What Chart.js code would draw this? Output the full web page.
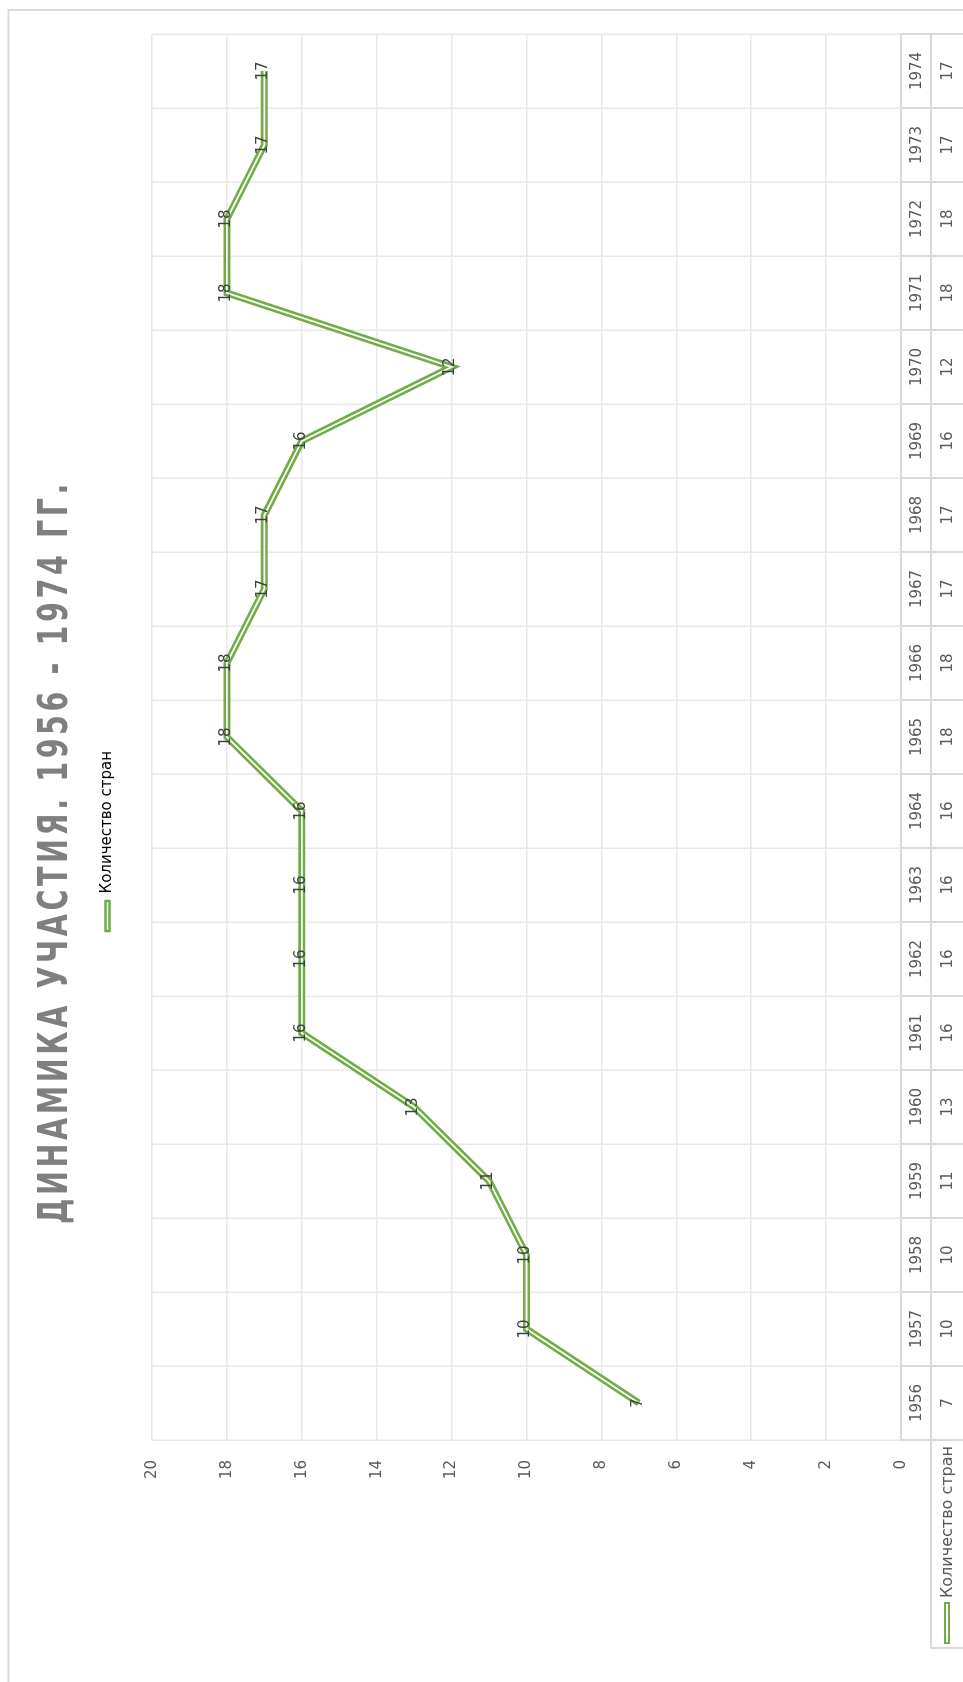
<!DOCTYPE html>
<html>
<head>
<meta charset="utf-8">
<script src="https://cdn.jsdelivr.net/npm/chart.js@4.4.0/dist/chart.umd.min.js"></script>
<style>
html, body { margin: 0; padding: 0; background: #fff; width: 963px; height: 1682px; overflow: hidden; }
/* chart is drawn landscape, then turned on its side like the original */
#wrap { position: absolute; left: 0; top: 0; width: 1682px; height: 963px;
        transform-origin: 0 0; transform: translate(0, 1682px) rotate(-90deg); }
</style>
</head>
<body>
<div id="wrap"><canvas id="chart" width="1682" height="963"></canvas></div>
<script>
const years = ['1956','1957','1958','1959','1960','1961','1962','1963','1964','1965',
               '1966','1967','1968','1969','1970','1971','1972','1973','1974'];
const countries = [7, 10, 10, 11, 13, 16, 16, 16, 16, 18, 18, 17, 17, 16, 12, 18, 18, 17, 17];
const valueTicks = [0, 2, 4, 6, 8, 10, 12, 14, 16, 18, 20];
const chartTitle = 'ДИНАМИКА УЧАСТИЯ. 1956 - 1974 ГГ.';
const seriesName = 'Количество стран';

const GREEN = '#70AD47';
const TEXT = '#595959';
const TABLE_LINE = '#d9d9d9';

Chart.defaults.font.family = '"DejaVu Sans", sans-serif';
Chart.defaults.font.size = 15;
Chart.defaults.color = TEXT;

// outer frame of the chart
const frame = {
    id: 'frame',
    beforeDraw(chart) {
        const ctx = chart.ctx;
        ctx.save();
        ctx.strokeStyle = TABLE_LINE;
        ctx.lineWidth = 2;
        ctx.beginPath();
        ctx.moveTo(0, 8.5);
        ctx.lineTo(1672, 8.5);
        ctx.lineTo(1672, chart.height);
        ctx.stroke();
        ctx.restore();
    }
};

// big grey title, a bit condensed and spaced like the excel one
const bigTitle = {
    id: 'bigTitle',
    afterDraw(chart) {
        const ctx = chart.ctx;
        ctx.save();
        ctx.font = 'bold 40px "DejaVu Sans"';
        ctx.letterSpacing = '5px';
        const w = ctx.measureText(chartTitle).width;
        ctx.translate(830, 67);
        ctx.scale(744 / w, 1);
        ctx.fillStyle = '#7f7f7f';
        ctx.textAlign = 'center';
        ctx.textBaseline = 'alphabetic';
        ctx.fillText(chartTitle, 0, 0);
        ctx.restore();
    }
};

// extra room between legend and plot
const legendSpace = {
    id: 'legendSpace',
    afterInit(chart) {
        const fit = chart.legend.fit;
        chart.legend.fit = function () {
            fit.call(this);
            this.height += 27;
        };
    }
};

const pointLabels = {
    id: 'pointLabels',
    afterDatasetsDraw(chart) {
        const ctx = chart.ctx;
        const meta = chart.getDatasetMeta(0);
        ctx.save();
        ctx.font = '15px "DejaVu Sans"';
        ctx.fillStyle = '#404040';
        ctx.textAlign = 'center';
        ctx.textBaseline = 'middle';
        meta.data.forEach((pt, i) => {
            ctx.fillText(String(countries[i]), pt.x, pt.y - 1);
        });
        ctx.restore();
    }
};

// data table under the plot (years + values + legend key)
const dataTable = {
    id: 'dataTable',
    afterDraw(chart) {
        const ctx = chart.ctx;
        const area = chart.chartArea;
        const xs = chart.scales.x;
        const step = (area.right - area.left) / years.length;
        const top = area.bottom;
        const mid = top + 30;
        const bot = chart.height;

        ctx.save();
        ctx.strokeStyle = TABLE_LINE;
        ctx.lineWidth = 2;
        ctx.beginPath();
        ctx.moveTo(area.left, top);
        ctx.lineTo(area.right, top);
        ctx.moveTo(34, mid);
        ctx.lineTo(area.right, mid);
        ctx.moveTo(34, mid);
        ctx.lineTo(34, bot);
        for (let i = 0; i <= years.length; i++) {
            const bx = Math.round(area.left + i * step);
            ctx.moveTo(bx, top);
            ctx.lineTo(bx, bot);
        }
        ctx.stroke();

        ctx.font = '15px "DejaVu Sans"';
        ctx.fillStyle = TEXT;
        ctx.textAlign = 'center';
        ctx.textBaseline = 'middle';
        years.forEach((y, i) => {
            const cx = xs.getPixelForValue(i);
            ctx.fillText(y, cx, (top + mid) / 2 + 1);
            ctx.fillText(String(countries[i]), cx, (mid + bot) / 2 + 1);
        });

        // legend key in the table
        const ky = (mid + bot) / 2;
        ctx.fillStyle = '#fff';
        ctx.strokeStyle = GREEN;
        ctx.lineWidth = 2;
        ctx.beginPath();
        ctx.rect(39, ky - 2, 40, 4);
        ctx.fill();
        ctx.stroke();
        ctx.font = '16px "DejaVu Sans"';
        ctx.fillStyle = TEXT;
        ctx.textAlign = 'right';
        ctx.fillText(seriesName, 236, ky + 1);
        ctx.restore();
    }
};

const ctx = document.getElementById('chart').getContext('2d');
const myChart = new Chart(ctx, {
    type: 'line',
    data: {
        labels: years,
        datasets: [{
            label: seriesName,
            data: countries,
            borderColor: GREEN,
            borderWidth: 7,
            pointRadius: 0,
            tension: 0,
            order: 1
        }, {
            label: 'inner',
            data: countries,
            borderColor: '#ffffff',
            borderWidth: 1.8,
            pointRadius: 0,
            tension: 0,
            order: 0
        }]
    },
    options: {
        responsive: false,
        animation: false,
        devicePixelRatio: 1,
        layout: { padding: { top: 90, left: 34, right: 34, bottom: 0 } },
        plugins: {
            tooltip: { enabled: false },
            title: { display: false },
            legend: {
                position: 'top',
                labels: {
                    boxWidth: 30,
                    boxHeight: 4,
                    padding: 10,
                    color: TEXT,
                    font: { size: 15 },
                    generateLabels: () => [{
                        text: seriesName,
                        fillStyle: '#ffffff',
                        strokeStyle: GREEN,
                        lineWidth: 2.5,
                        datasetIndex: 0
                    }]
                }
            }
        },
        scales: {
            x: {
                type: 'category',
                offset: true,
                grid: { offset: true, color: '#e8e8e8', lineWidth: 1.5, drawTicks: false },
                border: { display: false },
                ticks: { display: false },
                afterFit: scale => { scale.height = 62; }
            },
            y: {
                min: 0,
                max: 20,
                afterBuildTicks: axis => { axis.ticks = valueTicks.map(v => ({ value: v })); },
                grid: { color: '#e8e8e8', lineWidth: 1.5, drawTicks: false },
                border: { display: false },
                ticks: { padding: 20, color: TEXT, font: { size: 15 } },
                afterFit: scale => { scale.width = 208; }
            }
        }
    },
    plugins: [frame, legendSpace, pointLabels, dataTable, bigTitle]
});
</script>
</body>
</html>
